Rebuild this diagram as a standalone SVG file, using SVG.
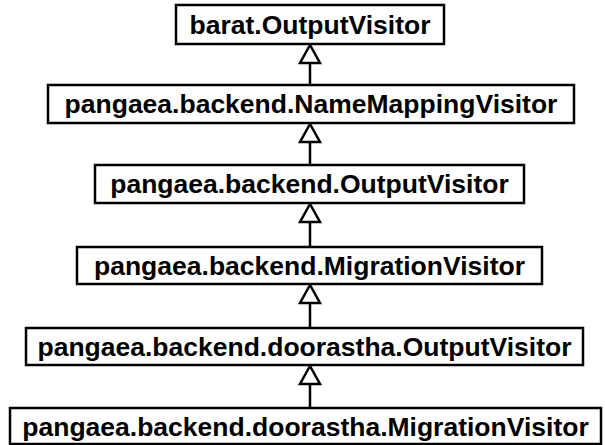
<svg xmlns="http://www.w3.org/2000/svg" width="605" height="445" viewBox="0 0 605 445">
<style>
.box{fill:#fff;stroke:#000;stroke-width:2.5}
.lbl{font-family:"Liberation Sans",Arial,sans-serif;font-weight:bold;font-size:26.5px;fill:#000;text-anchor:middle}
.edge{stroke:#000;stroke-width:2.5;fill:none}
.head{fill:#fff;stroke:#000;stroke-width:2.5;stroke-linejoin:miter}
</style>
<rect width="605" height="445" fill="#fff"/>
<g id="connectors">
<line class="edge" x1="310" y1="63" x2="310" y2="85"/>
<polygon class="head" points="310,45 300,63 320,63"/>
<line class="edge" x1="310" y1="142" x2="310" y2="165"/>
<polygon class="head" points="310,124 300,142 320,142"/>
<line class="edge" x1="310" y1="222" x2="310" y2="247"/>
<polygon class="head" points="310,204 300,222 320,222"/>
<line class="edge" x1="310" y1="303" x2="310" y2="328"/>
<polygon class="head" points="310,285 300,303 320,303"/>
<line class="edge" x1="310" y1="384" x2="310" y2="408"/>
<polygon class="head" points="310,366 300,384 320,384"/>
</g>
<g id="n1"><rect class="box" x="176" y="5" width="268" height="39"/><text class="lbl" x="310" y="34">barat.OutputVisitor</text></g>
<g id="n2"><rect class="box" x="48" y="85" width="526" height="38"/><text class="lbl" x="311" y="113">pangaea.backend.NameMappingVisitor</text></g>
<g id="n3"><rect class="box" x="95" y="165" width="429" height="38"/><text class="lbl" x="309.5" y="193">pangaea.backend.OutputVisitor</text></g>
<g id="n4"><rect class="box" x="77" y="247" width="465" height="37"/><text class="lbl" x="309.5" y="275">pangaea.backend.MigrationVisitor</text></g>
<g id="n5"><rect class="box" x="26" y="328" width="557" height="37"/><text class="lbl" x="304.5" y="356">pangaea.backend.doorastha.OutputVisitor</text></g>
<g id="n6"><rect class="box" x="10" y="408" width="591" height="36"/><text class="lbl" x="305.5" y="436">pangaea.backend.doorastha.MigrationVisitor</text></g>
</svg>
